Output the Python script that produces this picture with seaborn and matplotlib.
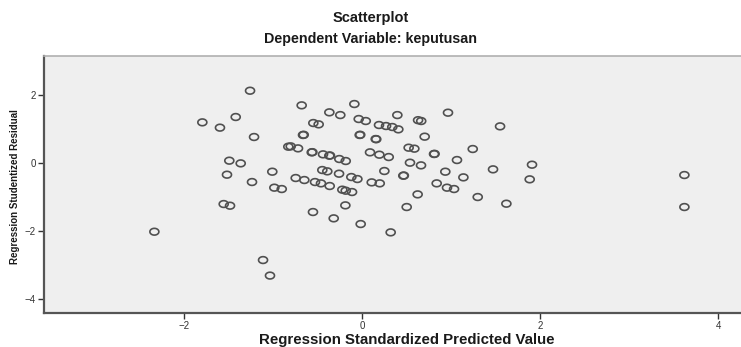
import numpy as np
import pandas as pd
import matplotlib
matplotlib.use("Agg")
import matplotlib.pyplot as plt
from matplotlib.path import Path
import seaborn as sns

# data
predicted = [
    -1.258, -1.794, -1.419, -1.596, -1.213, -0.828, -1.491, -1.363, -1.008, -1.517,
    -1.236, -0.985, -0.902, -1.554, -1.483, -2.333, -1.112, -1.034,
    -0.678, -0.086, -0.367, -0.244, 0.397, 0.966, -0.037, 0.042, 0.630, 0.665,
    -0.547, -0.487, 0.191, 0.270, 0.340, 0.408, 1.551, -0.663, -0.655, -0.026,
    -0.020, 0.154, 0.160, 0.704, -0.801, -0.719, 0.524, 0.588, 1.244, -0.565,
    -0.558, -0.438, -0.367, -0.360, -0.255, -0.183, 0.090, 0.195, 0.300, 0.809,
    0.815, 1.067, 0.539, 0.663, 1.472, -0.446, -0.390, -0.258, 0.251, 0.464,
    0.470, 0.936, 1.139, -0.745, -0.648, -0.120, -0.052, -0.528, -0.461, 0.109,
    0.199, 0.839, -0.363, -0.221, -0.183, -0.112, 0.955, 1.034, 0.625, 1.300,
    1.622, -0.187, 0.502, -0.551, -0.318, -0.015, 0.322, 1.884, 3.622, 3.622,
    1.910,
]
residual = [
    2.126, 1.196, 1.353, 1.040, 0.765, 0.480, 0.069, -0.010, -0.255, -0.343,
    -0.559, -0.725, -0.765, -1.206, -1.255, -2.020, -2.853, -3.310,
    1.696, 1.735, 1.490, 1.410, 1.410, 1.480, 1.294, 1.235, 1.260, 1.235,
    1.176, 1.137, 1.118, 1.088, 1.059, 0.990, 1.078, 0.824, 0.830, 0.824,
    0.830, 0.706, 0.700, 0.775, 0.490, 0.431, 0.451, 0.422, 0.412, 0.314,
    0.320, 0.255, 0.216, 0.222, 0.118, 0.059, 0.314, 0.245, 0.176, 0.265,
    0.270, 0.088, 0.010, -0.069, -0.186, -0.206, -0.245, -0.314, -0.235, -0.373,
    -0.368, -0.255, -0.422, -0.441, -0.500, -0.412, -0.471, -0.559, -0.598, -0.569,
    -0.598, -0.598, -0.676, -0.784, -0.814, -0.853, -0.725, -0.765, -0.922, -1.000,
    -1.196, -1.245, -1.294, -1.441, -1.627, -1.794, -2.039, -0.480, -0.353, -1.294,
    -0.049,
]
x_ticks = [-2, 0, 2, 4]
y_ticks = [-4, -2, 0, 2]

df = pd.DataFrame({"pred": predicted, "resid": residual})

# slightly flattened ring, the reference picture is stretched sideways
t = np.linspace(0, 2 * np.pi, 40)
ring = Path(np.column_stack([np.cos(t), 0.75 * np.sin(t)]), closed=True)

sns.set_style("ticks", {"axes.facecolor": "#efefef"})
plt.rcParams["font.family"] = ["Liberation Sans", "DejaVu Sans"]

fig = plt.figure(figsize=(7.41, 3.47), dpi=100)
ax = fig.add_axes([44 / 741, 34 / 347, 1 - 44 / 741, (313 - 56) / 347])

sns.scatterplot(data=df, x="pred", y="resid", ax=ax, marker=ring, s=42,
                facecolor="none", edgecolor="#505050", linewidth=1.2)

ax.set_xlim(-3.573, 4.258)
ax.set_ylim(-4.41, 3.147)
ax.set_xticks(x_ticks)
ax.set_yticks(y_ticks)
ax.tick_params(labelsize=7, colors="#333333", length=4, width=1, pad=2)
ax.set_xlabel("")
ax.set_ylabel("")

for side in ["left", "bottom"]:
    ax.spines[side].set_color("#555555")
    ax.spines[side].set_linewidth(1.6)
ax.spines["top"].set_visible(True)
ax.spines["top"].set_color("#b0b0b0")
ax.spines["top"].set_linewidth(1.2)
ax.spines["right"].set_visible(False)

# titles and axis labels
fig.text(0.5, 1 - 18 / 347, "Scatterplot", ha="center", va="center",
         fontsize=10.5, fontweight="bold", color="#1a1a1a")
fig.text(0.5, 1 - 39 / 347, "Dependent Variable: keputusan", ha="center", va="center",
         fontsize=10.3, fontweight="bold", color="#1a1a1a")
fig.text(407 / 741, 1 - 340 / 347, "Regression Standardized Predicted Value",
         ha="center", va="center", fontsize=10.8, fontweight="bold", color="#1a1a1a")
fig.text(15 / 741, 1 - 187 / 347, "Regression Studentized Residual", rotation=90,
         ha="center", va="center", fontsize=7, fontweight="bold", color="#1a1a1a",
         family=["Liberation Sans Narrow", "Liberation Sans", "DejaVu Sans"])

fig.savefig("out.png", dpi=100)
